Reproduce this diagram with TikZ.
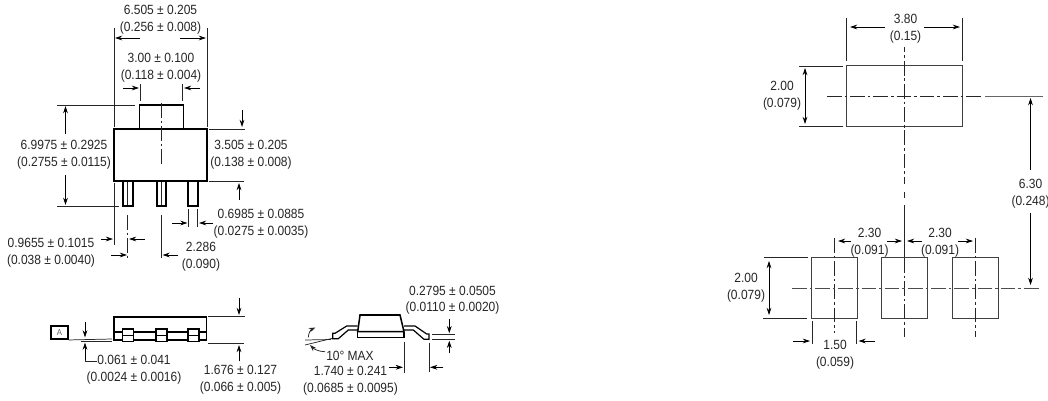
\documentclass[tikz,border=0pt]{standalone}
\usepackage{fontspec}
\setmainfont[FakeStretch=0.9]{Liberation Sans}
\usetikzlibrary{arrows.meta}
\tikzset{
 lbl/.style={align=center,inner sep=0pt,yshift=-1.1pt,font=\fontsize{10}{12.6}\selectfont,text=black!85},
 thin line/.style={line width=0.55pt,draw=black!85},
 body/.style={line width=1.15pt,draw=black,line join=miter},
 pad/.style={line width=0.7pt,draw=black!75},
 cl/.style={line width=0.55pt,draw=black!85,dash pattern=on 11pt off 2.2pt on 2pt off 2.2pt},
 dim/.style={line width=0.55pt,draw=black,-{Stealth[length=5.5pt,width=3.6pt]}},
 ddim/.style={line width=0.55pt,draw=black,{Stealth[length=5.5pt,width=3.6pt]}-{Stealth[length=5.5pt,width=3.6pt]}},
}
\begin{document}
\begin{tikzpicture}[x=0.75pt,y=-0.75pt]
\useasboundingbox[fill=white] (0,0) rectangle (1048,400);
% ---- top view package
\draw[body] (114,129) rectangle (207,181);
\draw[body] (139.5,129) -- (139.5,105) -- (183.5,105) -- (183.5,129);
\draw[body,line width=0.9pt] (123,181) rectangle (133,206);
\draw[body,line width=0.9pt] (157,181) rectangle (166,206);
\draw[body,line width=0.9pt] (188,181) rectangle (198,206);
\draw[thin line] (127,182) -- (127,205);
\draw[thin line] (161.5,182) -- (161.5,205);
\draw[cl] (161.5,103) -- (161.5,165);
\draw[cl] (127.5,215) -- (127.5,258);
\draw[thin line] (161.5,215) -- (161.5,258);
\draw[thin line] (114,28) -- (114,127);
\draw[thin line] (207,28) -- (207,127);
\draw[thin line] (114,183) -- (114,245);
\draw[thin line] (140,84) -- (140,101);
\draw[thin line] (182.5,84) -- (182.5,101);
\draw[thin line] (57,105) -- (135,105);
\draw[thin line] (57,206) -- (119,206);
\draw[thin line] (209,129) -- (245,129);
\draw[thin line] (209,181) -- (244,181);
\draw[thin line] (188.5,209) -- (188.5,227);
\draw[thin line] (197.5,209) -- (197.5,227);
\draw[dim] (140,38) -- (115,38);
\draw[dim] (180,38) -- (206,38);
\draw[dim] (123,88) -- (139,88);
\draw[dim] (200,88) -- (184,88);
\draw[dim] (65.5,134) -- (65.5,106);
\draw[dim] (65.5,175) -- (65.5,205);
\draw[dim] (242,110) -- (242,127);
\draw[dim] (239,200) -- (239,183);
\draw[dim] (172,223) -- (187.5,223);
\draw[dim] (213,223) -- (199,223);
\draw[dim] (101,239) -- (113,239);
\draw[dim] (145,239) -- (129,239);
\draw[dim] (111,255) -- (127,255);
\draw[dim] (178,255) -- (162.5,255);
\node[lbl] (ta) at (160.5,18.5) {6.505 ± 0.205\\(0.256 ± 0.008)};
\node[lbl] (tb) at (161,66.5) {3.00 ± 0.100\\(0.118 ± 0.004)};
\node[lbl] (tc) at (64,153.5) {6.9975 ± 0.2925\\(0.2755 ± 0.0115)};
\node[lbl] (td) at (251,153) {3.505 ± 0.205\\(0.138 ± 0.008)};
\node[lbl] (te) at (261,222.5) {0.6985 ± 0.0885\\(0.0275 ± 0.0035)};
\node[lbl] (tf) at (51,251) {0.9655 ± 0.1015\\(0.038 ± 0.0040)};
\node[lbl] (tg) at (201,255) {2.286\\(0.090)};
% ---- side view
\draw[body] (114,317) rectangle (206.5,340);
\draw[body] (114,332) -- (206.5,332);
\foreach \a/\b in {122.5/133.5,156/167,188/199}{
 \draw[body,line width=0.9pt,fill=white] (\a,329) rectangle (\b,341.5);
 \draw[body,line width=0.8pt] (\a,335.5) -- (\b,335.5);
}
\node[draw=black,line width=1.2pt,minimum width=12.4pt,minimum height=10pt,inner sep=0pt,font=\fontsize{6.5}{7}\selectfont,text=black!60] (boxa) at (59.5,332.5) {A};
\draw[thin line] (boxa.south east) -- (112,339);
\draw[thin line] (81,341) -- (112,341);
\draw[dim] (85,322) -- (85,337.5);
\draw[dim] (85,360) -- (85,342.5);
\draw[thin line] (85,360) -- (85,361) -- (97,361);
\draw[thin line] (208,316.5) -- (245,316.5);
\draw[thin line] (208,343) -- (244,343);
\draw[dim] (239,298) -- (239,315);
\draw[dim] (239,361) -- (239,345);
\node[lbl] (th) at (134,368.5) {0.061 ± 0.041\\(0.0024 ± 0.0016)};
\node[lbl] (ti) at (240.5,378.5) {1.676 ± 0.127\\(0.066 ± 0.005)};
% ---- end view
\draw[body] (357.7,331.7) -- (357.7,337.3) -- (404,337.3) -- (404,331.7);
\draw[body] (360,315) -- (400,315) -- (404,331.7) -- (357.7,331.7) -- cycle;
\draw[body,line width=0.9pt] (357.7,326) -- (346.7,326) -- (335,333.3) -- (332.7,333.3) -- (332.7,338.7) -- (338.3,338.7) -- (348.3,330) -- (357.7,330);
\draw[body,line width=0.9pt] (404,326) -- (415,326) -- (426.7,334) -- (429,334) -- (429,339.3) -- (424,339.3) -- (413.3,330) -- (404,330);
\draw[thin line] (305,340) -- (331,339.5);
\draw[thin line] (305,345) -- (331.7,338.5);
\draw[thin line,-{Stealth[length=5pt,width=3.4pt]}] (308.3,337.3) .. controls (308.5,332.5) and (311,329.5) .. (315.5,327.5);
\draw[thin line,-{Stealth[length=5pt,width=3.4pt]}] (325,351.7) .. controls (319,351.7) and (314,349) .. (310,345);
\draw[thin line] (404,342) -- (404,372.7);
\draw[thin line] (429,342.7) -- (429,371.7);
\draw[dim] (389.3,367.3) -- (403,367.3);
\draw[dim] (443.3,367.3) -- (430,367.3);
\draw[thin line] (432.3,334.3) -- (455,334.3);
\draw[thin line] (432.3,339.3) -- (455,339.3);
\draw[dim] (449.3,319.3) -- (449.3,333.3);
\draw[dim] (449.3,353.3) -- (449.3,340.7);
\node[lbl] (tj) at (350,354) {10° MAX};
\node[lbl] (tk) at (350.5,379) {1.740 ± 0.241\\(0.0685 ± 0.0095)};
\node[lbl] (tl) at (452.5,298.7) {0.2795 ± 0.0505\\(0.0110 ± 0.0020)};
% ---- land pattern
\draw[pad] (846.7,65.7) rectangle (962.7,126.7);
\draw[pad] (811.7,257.3) rectangle (857.3,318.3);
\draw[pad] (881.7,257.3) rectangle (927.7,318.3);
\draw[pad] (952.3,257.3) rectangle (998,318.3);
\draw[cl] (827,96) -- (983,96);
\draw[thin line,draw=black!60,line width=0.7pt] (985,96) -- (1043,96);
\draw[cl,dash phase=7pt] (904.3,47) -- (904.3,184);
\draw[cl] (904.3,192) -- (904.3,198);
\draw[thin line] (904.3,205) -- (904.3,257);
\draw[cl] (904.3,258) -- (904.3,337);
\draw[cl] (834.7,238) -- (834.7,333);
\draw[cl] (975,238) -- (975,337);
\draw[cl,draw=black!70,line width=0.65pt] (792,288) -- (1041,288);
\draw[thin line] (846,18) -- (846,61);
\draw[thin line] (962,18) -- (962,61);
\draw[dim] (885,27) -- (850,27);
\draw[dim] (924,27) -- (960,27);
\draw[thin line] (799,66) -- (843,66);
\draw[thin line] (799,126.7) -- (843,126.7);
\draw[ddim] (805,68) -- (805,124);
\draw[dim] (1030.5,170) -- (1030.5,98);
\draw[dim] (1030.5,213) -- (1030.5,285);
\draw[dim] (851,241) -- (838,241);
\draw[dim] (887,241) -- (902,241);
\draw[dim] (921.7,241) -- (907,241);
\draw[dim] (958,241) -- (973,241);
\draw[thin line] (764,257.3) -- (808,257.3);
\draw[thin line] (763,318.3) -- (807,318.3);
\draw[ddim] (769,261) -- (769,315);
\draw[thin line] (812,321) -- (812,344);
\draw[thin line] (856.3,321) -- (856.3,344);
\draw[dim] (793,341) -- (810,341);
\draw[dim] (875,341) -- (858.5,341);
\node[lbl] (tm) at (905.5,27.5) {3.80\\(0.15)};
\node[lbl] (tn) at (782,94.5) {2.00\\(0.079)};
\node[lbl] (to) at (1030.5,192.5) {6.30\\(0.248)};
\node[lbl] (tp) at (869.5,241) {2.30\\(0.091)};
\node[lbl] (tq) at (940,241) {2.30\\(0.091)};
\node[lbl] (tr) at (746,286.5) {2.00\\(0.079)};
\node[lbl] (ts) at (835,353.5) {1.50\\(0.059)};
\end{tikzpicture}
\end{document}
